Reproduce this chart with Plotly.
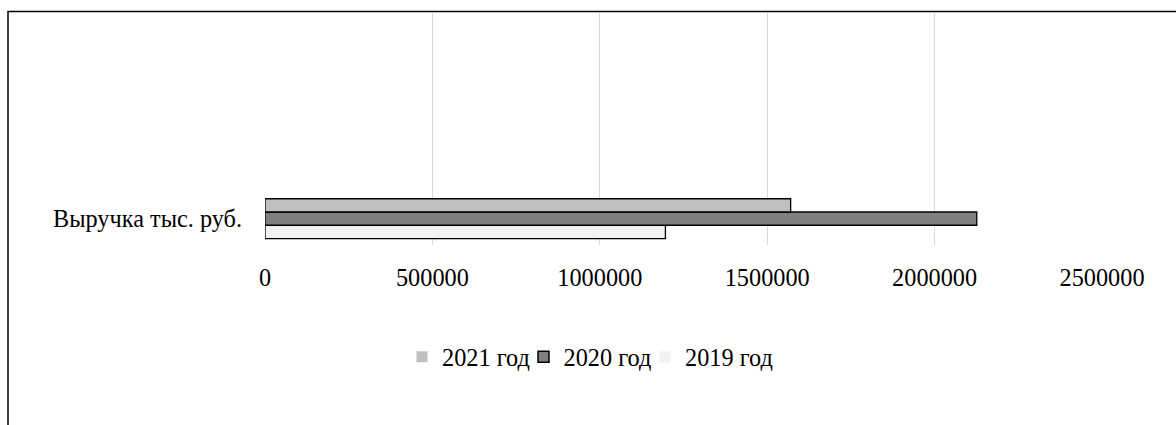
import plotly.graph_objects as go

category = ["Выручка тыс. руб."]
series_names = ["2019 год", "2020 год", "2021 год"]
values_2019 = [1196000]
values_2020 = [2126000]
values_2021 = [1570000]
colors = {"2019 год": "#f2f2f2", "2020 год": "#7f7f7f", "2021 год": "#bfbfbf"}
x_ticks = [0, 500000, 1000000, 1500000, 2000000, 2500000]

series_values = {"2019 год": values_2019, "2020 год": values_2020, "2021 год": values_2021}

W, H = 1176, 425
L, R, T, B = 265, 74, 13, 180
pw, ph = W - L - R, H - T - B

FONT = "Liberation Serif, Times New Roman, serif"
FS = 24.3

fig = go.Figure()
for name in series_names:
    fig.add_trace(go.Bar(
        y=[0], x=series_values[name], orientation="h", name=name,
        marker=dict(color=colors[name], line=dict(color="black", width=1.3)),
        showlegend=False,
    ))
# invisible spacer entry (shown last in reversed order) so the last label is not clipped
fig.add_trace(go.Scatter(
    x=[None], y=[None], mode="markers", name=" ",
    marker=dict(symbol="square", size=11, color="rgba(0,0,0,0)"),
    hoverinfo="skip",
))
# legend entries
for name in series_names:
    lw = 1.5 if name == "2020 год" else 0
    fig.add_trace(go.Scatter(
        x=[None], y=[None], mode="markers", name=name,
        marker=dict(symbol="square", size=11, color=colors[name],
                    line=dict(color="black", width=lw)),
    ))

fig.update_layout(
    width=W, height=H,
    margin=dict(l=L, r=R, t=T, b=B, pad=0),
    paper_bgcolor="white", plot_bgcolor="white",
    font=dict(family=FONT, size=FS, color="black"),
    barmode="group", bargap=0.245, bargroupgap=0,
    xaxis=dict(range=[0, 2500000], tickvals=x_ticks,
               ticktext=[str(v) for v in x_ticks],
               showgrid=True, gridcolor="#d9d9d9", gridwidth=1.3,
               zeroline=False, showline=False, ticks="",
               ticklabelstandoff=16, fixedrange=True),
    yaxis=dict(range=[-0.5, 3.9], tickvals=[0], ticktext=category,
               showgrid=False, zeroline=False, showline=False, ticks="",
               ticklabelstandoff=22, fixedrange=True),
    legend=dict(orientation="h", traceorder="reversed",
                x=(402 - L) / pw, xanchor="left",
                y=(T + ph - 357) / ph, yanchor="middle",
                font=dict(family=FONT, size=FS, color="black"),
                itemwidth=30, entrywidth=76.5, entrywidthmode="pixels",
                itemclick=False, itemdoubleclick=False,
                bgcolor="rgba(0,0,0,0)"),
    shapes=[dict(type="rect", xref="paper", yref="paper",
                 x0=(8 - L) / pw, x1=1.3,
                 y0=-1.5, y1=1 + 1.5 / ph,
                 line=dict(color="black", width=1.5), layer="above")],
)

fig.write_html("out.html", config={"displayModeBar": False},
               post_script="document.body.style.margin='0';document.body.style.overflow='hidden';")
